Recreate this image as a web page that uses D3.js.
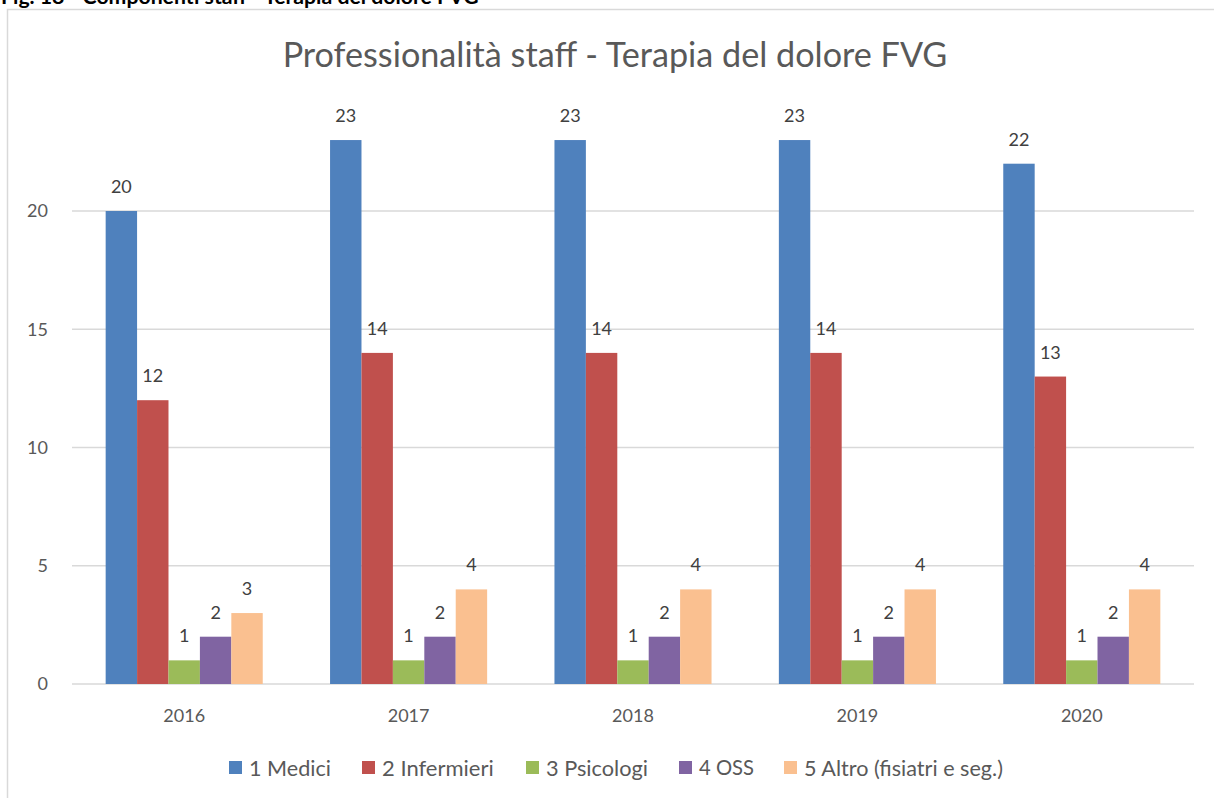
<!DOCTYPE html>
<html>
<head>
<meta charset="utf-8">
<script src="https://cdn.jsdelivr.net/npm/d3@7"></script>
<style>
  body { margin: 0; background: #fff; }
  svg { display: block; font-family: Lato, "Open Sans", sans-serif; }
</style>
</head>
<body>
<svg id="chart" width="1214" height="798"></svg>
<script>
// data
const years = ["2016", "2017", "2018", "2019", "2020"];
const seriesNames = ["1 Medici", "2 Infermieri", "3 Psicologi", "4 OSS", "5 Altro (fisiatri e seg.)"];
const medici = [20, 23, 23, 23, 22];
const infermieri = [12, 14, 14, 14, 13];
const psicologi = [1, 1, 1, 1, 1];
const oss = [2, 2, 2, 2, 2];
const altro = [3, 4, 4, 4, 4];
const yTicks = [0, 5, 10, 15, 20];
const colors = ["#4f81bd", "#c0504d", "#9bbb59", "#8064a2", "#fac090"];

const allSeries = [medici, infermieri, psicologi, oss, altro];

const svg = d3.select("#chart");
const plotLeft = 72, plotRight = 1194, plotBottom = 684;
const unit = (684 - 211) / 20;

// frame of the chart
svg.append("path")
  .attr("d", `M7.5,798 V9.5 H1214`)
  .attr("fill", "none")
  .attr("stroke", "#d9d9d9")
  .attr("stroke-width", 1.5);

// header cut off at the top
const header = svg.append("text")
  .attr("x", 1)
  .attr("y", 4)
  .attr("font-weight", "bold")
  .attr("font-size", 17)
  .attr("fill", "#000")
  .text("Fig. 18 - Componenti staff - Terapia del dolore FVG");
header.attr("font-size", 17 * 478 / header.node().getComputedTextLength());

const x0 = d3.scaleBand()
  .domain(years)
  .range([plotLeft, plotRight])
  .paddingInner(0.3)
  .paddingOuter(0.15);

const x1 = d3.scaleBand()
  .domain(d3.range(seriesNames.length))
  .range([0, x0.bandwidth()]);

const y = d3.scaleLinear()
  .domain([0, 20])
  .range([plotBottom, plotBottom - 20 * unit]);

// gridlines
svg.append("g")
  .selectAll("line")
  .data(yTicks)
  .join("line")
  .attr("x1", plotLeft)
  .attr("x2", plotRight)
  .attr("y1", d => y(d))
  .attr("y2", d => y(d))
  .attr("stroke", "#d9d9d9")
  .attr("stroke-width", 1.5);

// y tick labels
svg.append("g")
  .selectAll("text")
  .data(yTicks)
  .join("text")
  .attr("x", 48)
  .attr("y", d => y(d))
  .attr("dy", "0.35em")
  .attr("text-anchor", "end")
  .attr("font-size", 18)
  .attr("fill", "#595959")
  .text(d => d);

// bars
const groups = svg.append("g")
  .selectAll("g")
  .data(years)
  .join("g")
  .attr("transform", d => `translate(${x0(d)},0)`);

groups.selectAll("rect")
  .data((d, i) => allSeries.map((s, k) => ({ k: k, v: s[i] })))
  .join("rect")
  .attr("x", d => x1(d.k))
  .attr("width", x1.bandwidth())
  .attr("y", d => y(d.v))
  .attr("height", d => y(0) - y(d.v))
  .attr("fill", d => colors[d.k]);

// data labels
groups.selectAll("text")
  .data((d, i) => allSeries.map((s, k) => ({ k: k, v: s[i] })))
  .join("text")
  .attr("x", d => x1(d.k) + x1.bandwidth() / 2)
  .attr("y", d => y(d.v) - 18)
  .attr("text-anchor", "middle")
  .attr("font-size", 18)
  .attr("fill", "#404040")
  .text(d => d.v);

// x labels
svg.append("g")
  .selectAll("text")
  .data(years)
  .join("text")
  .attr("x", d => x0(d) + x0.bandwidth() / 2)
  .attr("y", 716)
  .attr("dy", "0.35em")
  .attr("text-anchor", "middle")
  .attr("font-size", 18)
  .attr("fill", "#595959")
  .text(d => d);

// title, fitted to the reference width
const title = svg.append("text")
  .attr("x", 615)
  .attr("y", 67)
  .attr("text-anchor", "middle")
  .attr("font-size", 30)
  .attr("fill", "#595959")
  .text("Professionalità staff - Terapia del dolore FVG");
const tw = title.node().getComputedTextLength();
title.attr("font-size", 30 * 665 / tw);

// legend, square positions and text widths
const legendX = [229, 362, 526, 679, 784];
const legendW = [82, 113, 102, 55, 199];
const legend = svg.append("g")
  .selectAll("g")
  .data(seriesNames)
  .join("g")
  .attr("transform", (d, i) => `translate(${legendX[i]},761)`);

legend.append("rect")
  .attr("width", 13)
  .attr("height", 13)
  .attr("fill", (d, i) => colors[i]);

legend.append("text")
  .attr("x", 20)
  .attr("y", 7)
  .attr("dy", "0.35em")
  .attr("font-size", 18)
  .attr("fill", "#595959")
  .text(d => d)
  .each(function (d, i) {
    const w = this.getComputedTextLength();
    d3.select(this).attr("font-size", Math.min(22, 18 * legendW[i] / w));
  });
</script>
</body>
</html>
